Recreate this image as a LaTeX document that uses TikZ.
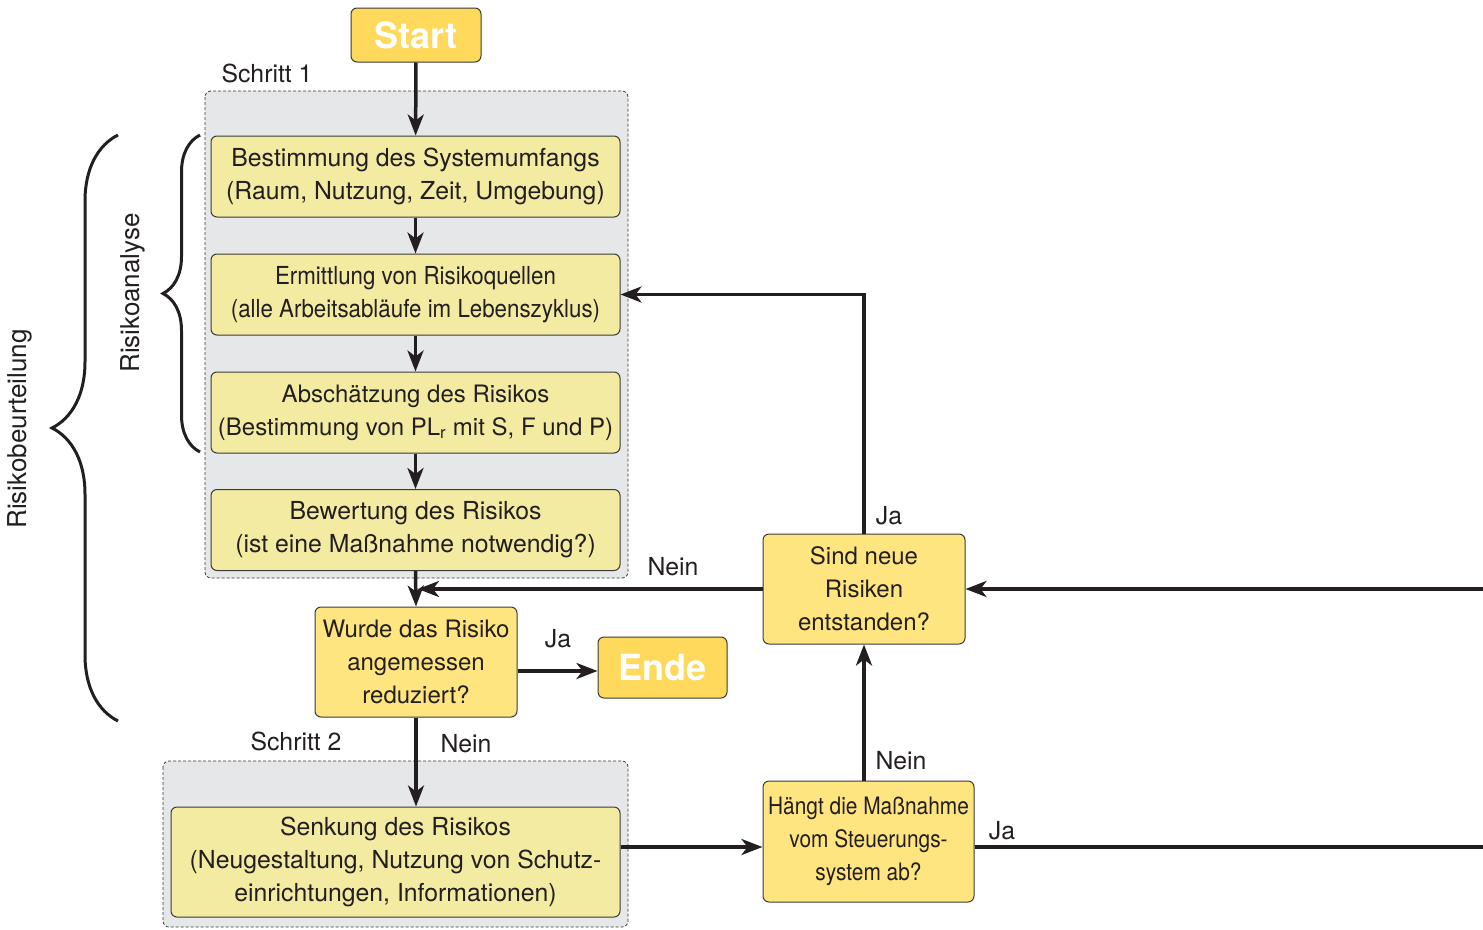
\documentclass[tikz,border=0pt]{standalone}
\usepackage{fontspec}
\setmainfont{TeX Gyre Heros}
\newfontfamily\narrowA{TeX Gyre Heros}[FakeStretch=0.90]
\newfontfamily\narrowB{TeX Gyre Heros}[FakeStretch=0.87]
\usetikzlibrary{arrows.meta,decorations.pathreplacing}
\definecolor{txt}{HTML}{231F20}
\definecolor{gold}{HTML}{FFD95C}
\definecolor{decfill}{HTML}{FFE580}
\definecolor{procfill}{HTML}{F4EBA2}
\definecolor{stepfill}{HTML}{E6E7E8}
\definecolor{edge}{HTML}{3A3A3A}
\tikzset{
  base/.style={font=\fontsize{24.8}{33}\selectfont, text=txt},
  procbox/.style={base, draw=edge, line width=1pt, fill=procfill, rounded corners=6pt,
    align=center, minimum width=409pt, minimum height=81pt, inner sep=0pt},
  decbox/.style={base, font=\fontsize{24}{33}\selectfont, draw=edge, line width=1pt,
    fill=decfill, rounded corners=6pt,
    align=center, minimum width=202pt, minimum height=110pt, inner sep=0pt},
  termbox/.style={draw=edge, line width=1pt, fill=gold, rounded corners=6pt,
    text=white, font=\fontsize{36}{40}\selectfont\bfseries, inner sep=0pt},
  stepframe/.style={draw=edge, line width=0.8pt, dash pattern=on 3pt off 2pt,
    fill=stepfill, rounded corners=6pt},
  lbl/.style={base, inner sep=0pt},
  flow/.style={line width=3.5pt, draw=txt,
    -{Stealth[length=21pt, width=16pt, inset=6pt]}},
  flowline/.style={line width=3.5pt, draw=txt},
  bracestyle/.style={line width=3pt, draw=txt, decorate},
}
\begin{document}
\begin{tikzpicture}[x=1pt, y=-1pt]
\useasboundingbox (0,0) rectangle (1483,929);

% step frames
\draw[stepframe] (205,91) rectangle (628,578);
\draw[stepframe] (163,761) rectangle (628,927);
\node[lbl] (s1) at (267,73) {Schritt 1};
\node[lbl] (s2) at (296,741) {Schritt 2};

% nodes
\node[termbox, minimum width=130pt, minimum height=54pt] (start) at (416,35) {Start};
\node[procbox] (b1) at (415.5,176.5) {Bestimmung des Systemumfangs\\(Raum, Nutzung, Zeit, Umgebung)};
\node[procbox, font=\narrowA\fontsize{24.8}{33}\selectfont] (b2) at (415.5,294.5) {Ermittlung von Risikoquellen\\(alle Arbeitsabläufe im Lebenszyklus)};
\node[procbox, font=\fontsize{24}{33}\selectfont] (b3) at (415.5,412.5) {Abschätzung des Risikos\\(Bestimmung von PL\textsubscript{r} mit S, F und P)};
\node[procbox] (b4) at (415.5,530) {Bewertung des Risikos\\(ist eine Maßnahme notwendig?)};
\node[decbox] (wurde) at (416,662) {Wurde das Risiko\\angemessen\\reduziert?};
\node[termbox, minimum width=129pt, minimum height=61pt] (ende) at (662.5,667.5) {Ende};
\node[procbox, minimum width=449pt, minimum height=110pt] (senk) at (395.5,862) {Senkung des Risikos\\(Neugestaltung, Nutzung von Schutz-\\einrichtungen, Informationen)};
\node[decbox] (sind) at (864,589) {Sind neue\\Risiken\\entstanden?};
\node[decbox, minimum width=211pt, minimum height=121pt, font=\narrowB\fontsize{24}{33}\selectfont] (haengt) at (868.5,841.5) {Hängt die Maßnahme\\vom Steuerungs-\\system ab?};

% helper points
\coordinate (hy) at (700,847);
\coordinate (jy) at (560,671);
\coordinate (edgeJa) at (1483,847);
\coordinate (edgeIn) at (1483,589);
\coordinate (merge) at (418,589);

% connectors
\draw[flow] (start) -- (b1);
\draw[flow] (b1) -- (b2);
\draw[flow] (b2) -- (b3);
\draw[flow] (b3) -- (b4);
\draw[flow] (b4.south) -- (wurde.north);
\draw[flow] (wurde.east |- jy) -- (ende.west |- jy);
\draw[flow] (wurde.south) -- (wurde.south |- senk.north);
\draw[flow] (senk.east |- hy) -- (haengt.west |- hy);
\draw[flow] (sind.south |- haengt.north) -- (sind.south);
\draw[flow] (sind.north) |- (b2.east);
\draw[flow] (sind.west) -- (merge);
\draw[flow] (edgeIn) -- (sind.east);
\draw[flowline] (haengt.east |- hy) -- (edgeJa);

% connector labels
\node[lbl] (l1) at (558,639) {Ja};
\node[lbl] (l2) at (466,744) {Nein};
\node[lbl] (l3) at (673,567) {Nein};
\node[lbl] (l4) at (889,516) {Ja};
\node[lbl] (l5) at (901,761) {Nein};
\node[lbl] (l6) at (1002,831) {Ja};

% braces
\coordinate (bigTop) at (118,135);
\coordinate (bigBot) at (118,721);
\coordinate (smTop) at (200,135);
\coordinate (smBot) at (200,452);
\draw[bracestyle, decoration={brace, amplitude=66pt, aspect=0.5}] (bigBot) -- (bigTop);
\draw[bracestyle, decoration={brace, amplitude=37pt, aspect=0.5}] (smBot) -- (smTop);
\node[lbl, font=\fontsize{26}{30}\selectfont, rotate=90] (rb) at (20,429) {Risikobeurteilung};
\node[lbl, font=\fontsize{26}{30}\selectfont, rotate=90] (ra) at (133,293) {Risikoanalyse};
\end{tikzpicture}
\end{document}
